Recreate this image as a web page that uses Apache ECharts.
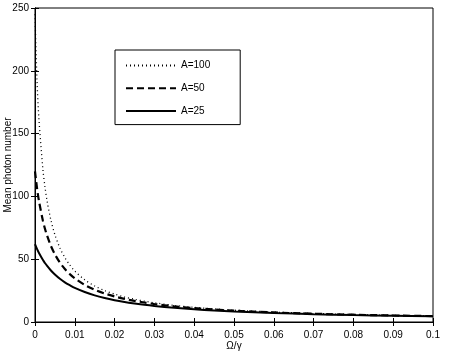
<!DOCTYPE html>
<html>
<head>
<meta charset="utf-8">
<script src="https://cdn.jsdelivr.net/npm/echarts@6/dist/echarts.min.js"></script>
<style>
html,body{margin:0;padding:0;background:#fff;}
#chart{width:449px;height:354px;}
</style>
</head>
<body>
<div id="chart"></div>
<script>
var omega = [0, 0.0005, 0.001, 0.002, 0.0025, 0.003, 0.004, 0.005, 0.00625, 0.0075, 0.00875, 0.01, 0.0125, 0.015, 0.0175, 0.02, 0.0225, 0.025, 0.0275, 0.03, 0.035, 0.04, 0.045, 0.05, 0.06, 0.07, 0.08, 0.09, 0.1];
var a100 = [245, 192.5, 160.9, 121, 107.7, 97, 81, 69.5, 59.0, 51.3, 45.3, 40.6, 33.6, 28.7, 25.0, 22.2, 19.9, 18.1, 16.6, 15.3, 13.2, 11.6, 10.4, 9.4, 7.9, 6.8, 6.0, 5.3, 4.8];
var a50 = [120, 106.8, 96.3, 80.4, 74.3, 69.1, 60.5, 53.9, 47.3, 42.2, 38.1, 34.7, 29.5, 25.6, 22.7, 20.3, 18.4, 16.8, 15.5, 14.3, 12.5, 11.1, 10.0, 9.0, 7.6, 6.6, 5.8, 5.2, 4.7];
var a25 = [62, 58.2, 54.9, 49.3, 47.0, 44.8, 41.0, 37.8, 34.4, 31.6, 29.3, 27.2, 23.9, 21.2, 19.1, 17.4, 16.0, 14.8, 13.7, 12.8, 11.3, 10.1, 9.2, 8.4, 7.2, 6.2, 5.5, 5.0, 4.5];
var seriesNames = ['A=100', 'A=50', 'A=25'];
var xTitle = 'Ω/γ';
var yTitle = 'Mean photon number';

function pairs(ys){ return omega.map(function(x,i){ return [x, ys[i]]; }); }

var font = 'Liberation Sans, Arial, Helvetica, sans-serif';
var chart = echarts.init(document.getElementById('chart'), null, {renderer:'canvas'});
var axisCommon = {
  axisLine:{show:true, lineStyle:{color:'#000', width:1}},
  axisTick:{show:true, inside:true, length:4, lineStyle:{color:'#000'}},
  splitLine:{show:false}
};
chart.setOption({
  animation:false,
  backgroundColor:'#fff',
  grid:{left:35, right:16, top:8, bottom:32, containLabel:false, outerBoundsMode:'none',
    show:true, borderColor:'#000', borderWidth:1},
  legend:{
    orient:'vertical', left:115, top:50,
    data: seriesNames,
    itemWidth:50, itemHeight:14, itemGap:11.5,
    padding:[10,30,8,10],
    borderColor:'#000', borderWidth:1,
    backgroundColor:'#fff',
    itemStyle:{opacity:0},
    textStyle:{fontFamily:font, fontSize:10, color:'#000'}
  },
  xAxis:[
    Object.assign({type:'value', min:0, max:0.1, interval:0.01, position:'bottom',
      name:xTitle, nameLocation:'middle', nameGap:19, nameMoveOverlap:false,
      nameTextStyle:{fontFamily:font, fontSize:10, color:'#000'},
      axisLabel:{fontFamily:font, fontSize:10, color:'#000', margin:8}}, axisCommon),
    Object.assign({type:'value', min:0, max:0.1, interval:0.01, position:'top',
      axisLabel:{show:false}}, axisCommon)
  ],
  yAxis:[
    Object.assign({type:'value', min:0, max:250, interval:50, position:'left',
      name:yTitle, nameLocation:'middle', nameGap:22, nameMoveOverlap:false,
      nameTextStyle:{fontFamily:font, fontSize:10, color:'#000'},
      axisLabel:{fontFamily:font, fontSize:10, color:'#000', margin:6}}, axisCommon),
    Object.assign({type:'value', min:0, max:250, interval:50, position:'right',
      axisLabel:{show:false}}, axisCommon)
  ],
  series:[
    {name:seriesNames[0], type:'line', data:pairs(a100), symbol:'none', smooth:0.3,
      lineStyle:{color:'#000', width:1.3, type:[1,3]}, itemStyle:{color:'#000'}},
    {name:seriesNames[1], type:'line', data:pairs(a50), symbol:'none', smooth:0.3,
      lineStyle:{color:'#000', width:2.2, type:[7,4]}, itemStyle:{color:'#000'}},
    {name:seriesNames[2], type:'line', data:pairs(a25), symbol:'none', smooth:0.3,
      lineStyle:{color:'#000', width:2, type:'solid'}, itemStyle:{color:'#000'}}
  ]
});
</script>
</body>
</html>
